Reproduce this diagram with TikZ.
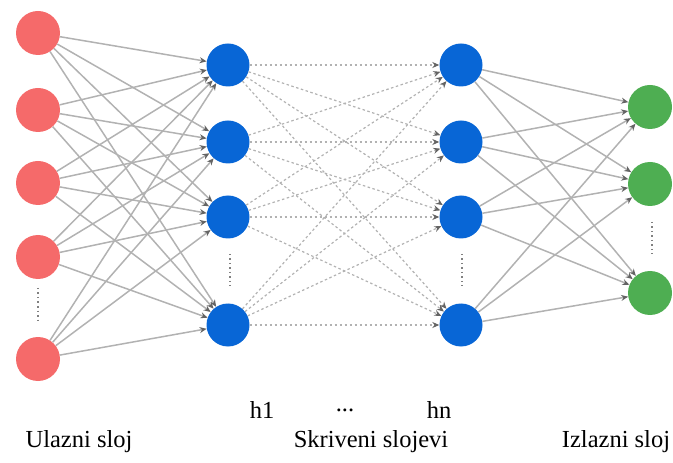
\documentclass[tikz,border=0pt]{standalone}
\usepackage{fontspec}
\setmainfont{Liberation Serif}
\usetikzlibrary{arrows.meta}
\definecolor{inred}{RGB}{245,106,106}
\definecolor{hidblue}{RGB}{8,102,214}
\definecolor{outgreen}{RGB}{78,174,82}
\definecolor{edgegray}{RGB}{178,178,178}
\definecolor{tipgray}{RGB}{100,100,100}
\tikzset{
  neuron/.style={circle,minimum size=44bp,inner sep=0pt},
  inneuron/.style={neuron,fill=inred},
  hidneuron/.style={neuron,minimum size=43bp,fill=hidblue},
  outneuron/.style={neuron,fill=outgreen},
  link/.style={draw=edgegray,line width=1.5bp,-{Stealth[length=7bp,width=6bp,color=tipgray]}},
  dlink/.style={link,line width=1.2bp,dash pattern=on 2.5bp off 2.5bp},
  vdots/.style={draw=gray,line width=1.5bp,dash pattern=on 1.5bp off 3bp},
  lbl/.style={font=\rmfamily\fontsize{24.5bp}{28bp}\selectfont,inner sep=0pt}
}
\begin{document}
\begin{tikzpicture}[x=1bp,y=-1bp]
\useasboundingbox (0,0) rectangle (673,463);
% input layer
\node[inneuron] (i1) at (38,33) {};
\node[inneuron] (i2) at (38,110) {};
\node[inneuron] (i3) at (38,183) {};
\node[inneuron] (i4) at (38,257) {};
\node[inneuron] (i5) at (38,359) {};
% hidden layer 1
\node[hidneuron] (a1) at (228,65) {};
\node[hidneuron] (a2) at (228,142) {};
\node[hidneuron] (a3) at (228,217) {};
\node[hidneuron] (a4) at (228,325) {};
% hidden layer n
\node[hidneuron] (b1) at (461,65) {};
\node[hidneuron] (b2) at (461,142) {};
\node[hidneuron] (b3) at (461,217) {};
\node[hidneuron] (b4) at (461,325) {};
% output layer
\node[outneuron] (o1) at (650,107) {};
\node[outneuron] (o2) at (650,184) {};
\node[outneuron] (o3) at (650,293) {};
% connections
\foreach \s in {i1,i2,i3,i4,i5}
  \foreach \t in {a1,a2,a3,a4}
    \draw[link] (\s) -- (\t);
\foreach \s in {a1,a2,a3,a4}
  \foreach \t in {b1,b2,b3,b4}
    \draw[dlink] (\s) -- (\t);
\foreach \s in {b1,b2,b3,b4}
  \foreach \t in {o1,o2,o3}
    \draw[link] (\s) -- (\t);
% ellipsis dots
\coordinate (di1) at (38,288); \coordinate (di2) at (38,320);
\coordinate (da1) at (230,254); \coordinate (da2) at (230,286);
\coordinate (db1) at (462,254); \coordinate (db2) at (462,286);
\coordinate (do1) at (652,222); \coordinate (do2) at (652,254);
\draw[vdots] (di1) -- (di2);
\draw[vdots] (da1) -- (da2);
\draw[vdots] (db1) -- (db2);
\draw[vdots] (do1) -- (do2);
% labels
\node[lbl] (h1) at (262,410) {h1};
\node[lbl] (hdots) at (345,410) {...};
\node[lbl] (hn) at (439,410) {hn};
\node[lbl] (lin) at (79,442) {Ulazni sloj};
\node[lbl] (lhid) at (371,442) {Skriveni slojevi};
\node[lbl] (lout) at (616,442) {Izlazni sloj};
\end{tikzpicture}
\end{document}
